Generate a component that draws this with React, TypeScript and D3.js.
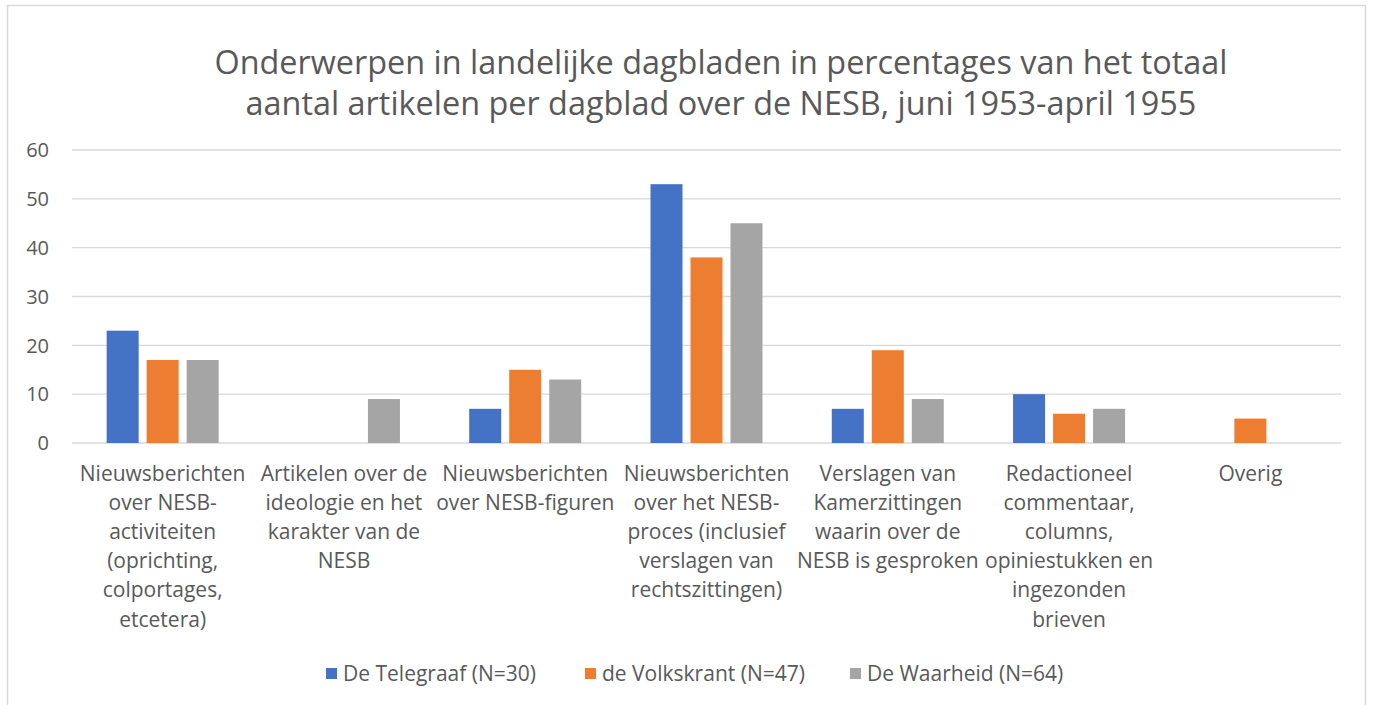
import React from 'react';
import * as d3 from 'd3';

const categories = [
  ['Nieuwsberichten', 'over NESB-', 'activiteiten', '(oprichting,', 'colportages,', 'etcetera)'],
  ['Artikelen over de', 'ideologie en het', 'karakter van de', 'NESB'],
  ['Nieuwsberichten', 'over NESB-figuren'],
  ['Nieuwsberichten', 'over het NESB-', 'proces (inclusief', 'verslagen van', 'rechtszittingen)'],
  ['Verslagen van', 'Kamerzittingen', 'waarin over de', 'NESB is gesproken'],
  ['Redactioneel', 'commentaar,', 'columns,', 'opiniestukken en', 'ingezonden', 'brieven'],
  ['Overig'],
];
const seriesNames = ['De Telegraaf (N=30)', 'de Volkskrant (N=47)', 'De Waarheid (N=64)'];
const telegraaf = [23, 0, 7, 53, 7, 10, 0];
const volkskrant = [17, 0, 15, 38, 19, 6, 5];
const waarheid = [17, 9, 13, 45, 9, 7, 0];
const yTicks = [0, 10, 20, 30, 40, 50, 60];
const titleLines = [
  'Onderwerpen in landelijke dagbladen in percentages van het totaal',
  'aantal artikelen per dagblad over de NESB, juni 1953-april 1955',
];

const colors = ['#4472C4', '#ED7D31', '#A5A5A5'];
const textColor = '#595959';
const font = '"Open Sans", sans-serif';

export default function App() {
  const width = 1373;
  const height = 705;
  const margin = { top: 150, right: 32, bottom: 262, left: 72 };
  const innerWidth = width - margin.left - margin.right;
  const innerHeight = height - margin.top - margin.bottom;

  const values = [telegraaf, volkskrant, waarheid];
  const idx = categories.map((_, i) => i);

  const x0 = d3.scaleBand<number>().domain(idx).range([0, innerWidth]).padding(0);
  const x1 = d3.scaleBand<number>().domain([0, 1, 2]).range([-56, 56]).paddingInner(0.2);
  const y = d3.scaleLinear().domain([0, 60]).range([innerHeight, 0]);

  const legendX = [326, 585, 850];

  return (
    <svg width={width} height={height} style={{ position: 'absolute', left: 0, top: 0 }} fontFamily={font}>
      <rect x={0} y={0} width={width} height={height} fill="#fff" />
      <rect x={7.5} y={5.5} width={1358} height={710} fill="#fff" stroke="#D9D9D9" strokeWidth={1.5} />
      <g fill={textColor} fontSize={32.4} textAnchor="middle">
        {titleLines.map((t, i) => (
          <text key={i} x={721} y={74 + i * 41}>{t}</text>
        ))}
      </g>
      <g transform={`translate(${margin.left},${margin.top})`}>
        {yTicks.map((t) => (
          <g key={t} transform={`translate(0,${y(t)})`}>
            <line x2={innerWidth} stroke="#D9D9D9" strokeWidth={1.3} />
            <text x={-23} dy="0.36em" textAnchor="end" fontSize={20} fill={textColor}>{t}</text>
          </g>
        ))}
        {idx.map((ci) => (
          <g key={ci} transform={`translate(${(x0(ci) ?? 0) + x0.bandwidth() / 2},0)`}>
            {values.map((s, si) => (s[ci] > 0 ? (
              <rect
                key={si}
                x={x1(si)}
                y={y(s[ci])}
                width={x1.bandwidth()}
                height={y(0) - y(s[ci])}
                fill={colors[si]}
              />
            ) : null))}
            <text textAnchor="middle" fontSize={21} fill={textColor}>
              {categories[ci].map((line, li) => (
                <tspan key={li} x={0} y={innerHeight + 38 + li * 29.1}>{line}</tspan>
              ))}
            </text>
          </g>
        ))}
      </g>
      <g>
        {seriesNames.map((name, i) => (
          <g key={name} transform={`translate(${legendX[i]},668)`}>
            <rect width={11} height={11} fill={colors[i]} />
            <text x={17} y={13} fontSize={21} fill={textColor}>{name}</text>
          </g>
        ))}
      </g>
    </svg>
  );
}
